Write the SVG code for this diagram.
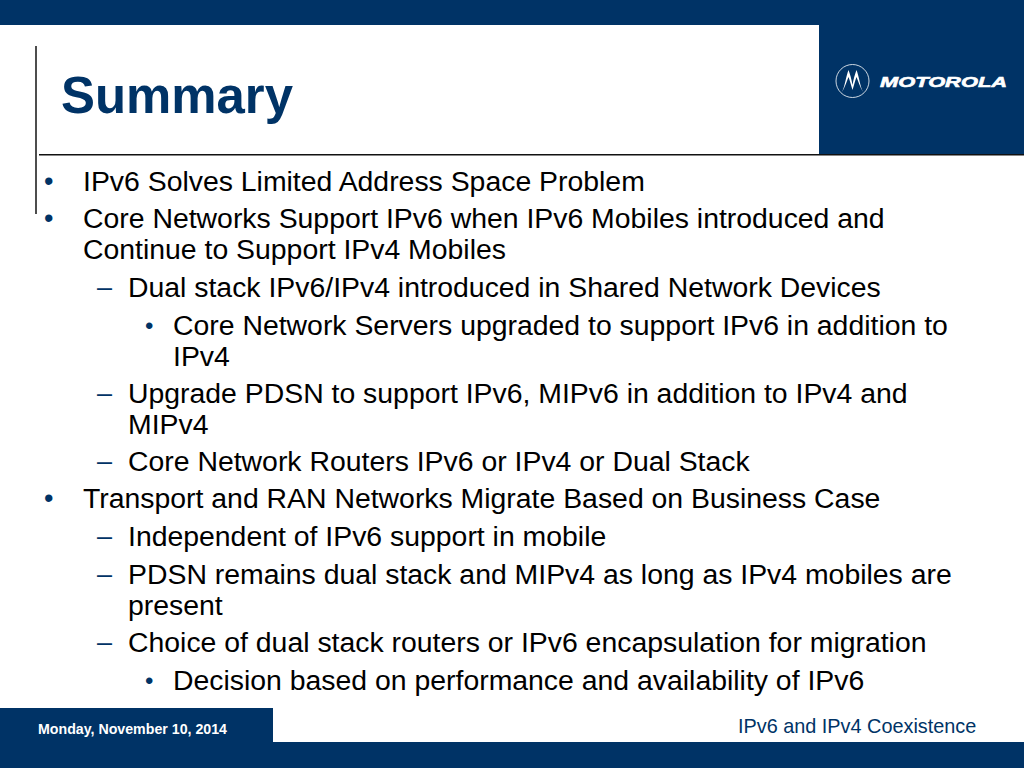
<svg xmlns="http://www.w3.org/2000/svg" width="1024" height="768" viewBox="0 0 1024 768">
<style>
text{font-family:"Liberation Sans",Arial,sans-serif;fill:#000}
.b{font-size:28.4px}
.mark{font-size:27px;fill:#003366}
.navy{fill:#003366}
</style>
<rect width="1024" height="768" fill="#fff"/>
<g id="frame">
<rect class="navy" x="0" y="0" width="1024" height="25"/>
<rect class="navy" x="819" y="0" width="205" height="154"/>
<rect class="navy" x="0" y="708" width="273" height="60"/>
<rect class="navy" x="0" y="742" width="1024" height="26"/>
<rect x="35" y="46" width="2" height="168" fill="#4d4d4d"/>
<rect x="39" y="154" width="985" height="1.5" fill="#111"/>
</g>
<g id="logo">
<circle cx="852.500" cy="81" r="16.500" fill="none" stroke="#fff" stroke-width="0.800"/>
<path d="M842 92 C845 86 846 76 848.500 70 C850 74 851.500 79 852.500 85 C853.500 79 855 74 856.500 70 C859 76 860 86 863 92 C860 87 858.500 82 856.500 77 C855 81 854 85 852.500 90 C851 85 850 81 848.500 77 C846.500 82 845 87 842 92Z" fill="#fff"/>
<text x="880" y="86.500" font-size="15.500" font-weight="700" font-style="italic" textLength="127" lengthAdjust="spacingAndGlyphs" style="fill:#fff;stroke:#fff;stroke-width:.6">MOTOROLA</text>
</g>
<g id="title"><text x="61" y="113" font-size="50.900" font-weight="700" style="fill:#003366">Summary</text></g>
<g id="body">
<text class="mark" x="44" y="190">•</text><text class="b" x="83" y="191">IPv6 Solves Limited Address Space Problem</text>
<text class="mark" x="44" y="227">•</text><text class="b" x="83" y="228">Core Networks Support IPv6 when IPv6 Mobiles introduced and</text>
<text class="b" x="83" y="259">Continue to Support IPv4 Mobiles</text>
<text class="mark" x="97" y="296">–</text><text class="b" x="128" y="297">Dual stack IPv6/IPv4 introduced in Shared Network Devices</text>
<text class="mark" x="145" y="334" style="font-size:24px">•</text><text class="b" x="173" y="335">Core Network Servers upgraded to support IPv6 in addition to</text>
<text class="b" x="173" y="366">IPv4</text>
<text class="mark" x="97" y="402">–</text><text class="b" x="128" y="403">Upgrade PDSN to support IPv6, MIPv6 in addition to IPv4 and</text>
<text class="b" x="128" y="434">MIPv4</text>
<text class="mark" x="97" y="470">–</text><text class="b" x="128" y="471">Core Network Routers IPv6 or IPv4 or Dual Stack</text>
<text class="mark" x="44" y="507">•</text><text class="b" x="83" y="508">Transport and RAN Networks Migrate Based on Business Case</text>
<text class="mark" x="97" y="545">–</text><text class="b" x="128" y="546">Independent of IPv6 support in mobile</text>
<text class="mark" x="97" y="583">–</text><text class="b" x="128" y="584">PDSN remains dual stack and MIPv4 as long as IPv4 mobiles are</text>
<text class="b" x="128" y="615">present</text>
<text class="mark" x="97" y="651">–</text><text class="b" x="128" y="652">Choice of dual stack routers or IPv6 encapsulation for migration</text>
<text class="mark" x="145" y="689" style="font-size:24px">•</text><text class="b" x="173" y="690">Decision based on performance and availability of IPv6</text>
</g>
<g id="footer">
<text x="38" y="734" font-size="14.200" font-weight="700" style="fill:#fff">Monday, November 10, 2014</text>
<text x="738" y="733" font-size="19.850" style="fill:#003366">IPv6 and IPv4 Coexistence</text>
</g>
</svg>
